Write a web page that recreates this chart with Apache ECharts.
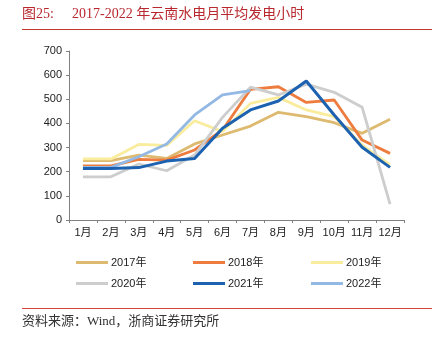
<!DOCTYPE html>
<html>
<head>
<meta charset="utf-8">
<script src="https://cdn.jsdelivr.net/npm/echarts@6/dist/echarts.min.js"></script>
<style>
  html, body { margin: 0; padding: 0; background: #fff; }
  #chart { width: 442px; height: 342px; }
</style>
</head>
<body>
<div id="chart"></div>
<script>
// Monthly average generation hours of Yunnan hydropower, 2017-2022
const months = ['1月', '2月', '3月', '4月', '5月', '6月', '7月', '8月', '9月', '10月', '11月', '12月'];
const yearNames = ['2017年', '2018年', '2019年', '2020年', '2021年', '2022年'];
const hours2017 = [246, 246, 269, 255, 315, 352, 389, 446, 428, 403, 359, 417];
const hours2018 = [224, 224, 251, 248, 290, 373, 541, 552, 487, 497, 331, 276];
const hours2019 = [253, 253, 313, 309, 411, 366, 483, 508, 456, 428, 310, 228];
const hours2020 = [179, 179, 232, 204, 269, 425, 550, 518, 563, 529, 467, 66];
const hours2021 = [213, 213, 217, 244, 255, 380, 456, 493, 576, 435, 301, 218];
const hours2022 = [218, 218, 262, 315, 435, 518, 536];
const yTicks = [0, 100, 200, 300, 400, 500, 600, 700];

const colors = ['#DDBA6F', '#EE7C3E', '#F9EC9C', '#CDCDCD', '#1C62B0', '#93B8E4'];
const seriesData = [hours2017, hours2018, hours2019, hours2020, hours2021, hours2022];

const chart = echarts.init(document.getElementById('chart'), null, { renderer: 'canvas' });

const labelFont = "'Liberation Sans', Arial, 'Noto Sans CJK SC', sans-serif";
const serifFont = "'Liberation Serif', 'Times New Roman', 'Noto Sans CJK SC', serif";

// one legend per item so the three-column grid lines up
const legendPos = [
  { left: 76, top: 257 }, { left: 193, top: 257 }, { left: 311, top: 257 },
  { left: 76, top: 278 }, { left: 193, top: 278 }, { left: 311, top: 278 }
];
const legends = yearNames.map((name, i) => ({
  data: [name],
  left: legendPos[i].left,
  top: legendPos[i].top,
  icon: 'rect',
  itemWidth: 32,
  itemHeight: 3,
  itemGap: 0,
  padding: 0,
  textStyle: { fontFamily: labelFont, fontSize: 11, color: '#222', padding: [0, 0, 0, -2] }
}));

chart.setOption({
  animation: false,
  color: colors,
  grid: { left: 69, right: 38, top: 51, bottom: 122, containLabel: false },
  legend: legends,
  xAxis: {
    type: 'category',
    data: months,
    boundaryGap: true,
    axisLine: { lineStyle: { color: '#808080', width: 1 } },
    axisTick: { show: true, length: 3, interval: 0, lineStyle: { color: '#808080' } },
    axisLabel: { interval: 0, fontFamily: labelFont, fontSize: 11, color: '#222', margin: 7 }
  },
  yAxis: {
    type: 'value',
    min: yTicks[0],
    max: yTicks[yTicks.length - 1],
    interval: 100,
    axisLine: { show: true, lineStyle: { color: '#808080', width: 1 } },
    axisTick: { show: true, length: 3, lineStyle: { color: '#808080' } },
    splitLine: { show: false },
    axisLabel: { fontFamily: labelFont, fontSize: 11, color: '#222', margin: 7 }
  },
  series: seriesData.map((d, i) => ({
    name: yearNames[i],
    type: 'line',
    data: d,
    symbol: 'none',
    smooth: false,
    lineStyle: { width: i === 4 ? 3 : 2.8, color: colors[i] },
    z: i === 4 ? 10 : 2 + i
  })),
  graphic: [
    {
      type: 'text', left: 22, top: 7,
      style: { text: '图25:', font: "14px " + serifFont, fill: '#B8282E' }
    },
    {
      type: 'text', left: 72, top: 7,
      style: { text: '2017-2022 年云南水电月平均发电小时', font: "14px " + serifFont, fill: '#B8282E' }
    },
    {
      type: 'rect', shape: { x: 22, y: 29, width: 410, height: 1 },
      style: { fill: '#C0392B' }
    },
    {
      type: 'rect', shape: { x: 22, y: 308, width: 410, height: 1 },
      style: { fill: '#D9443A' }
    },
    {
      type: 'text', left: 22, top: 315,
      style: { text: '资料来源：Wind，浙商证券研究所', font: "13px " + serifFont, fill: '#333' }
    }
  ]
});
</script>
</body>
</html>
